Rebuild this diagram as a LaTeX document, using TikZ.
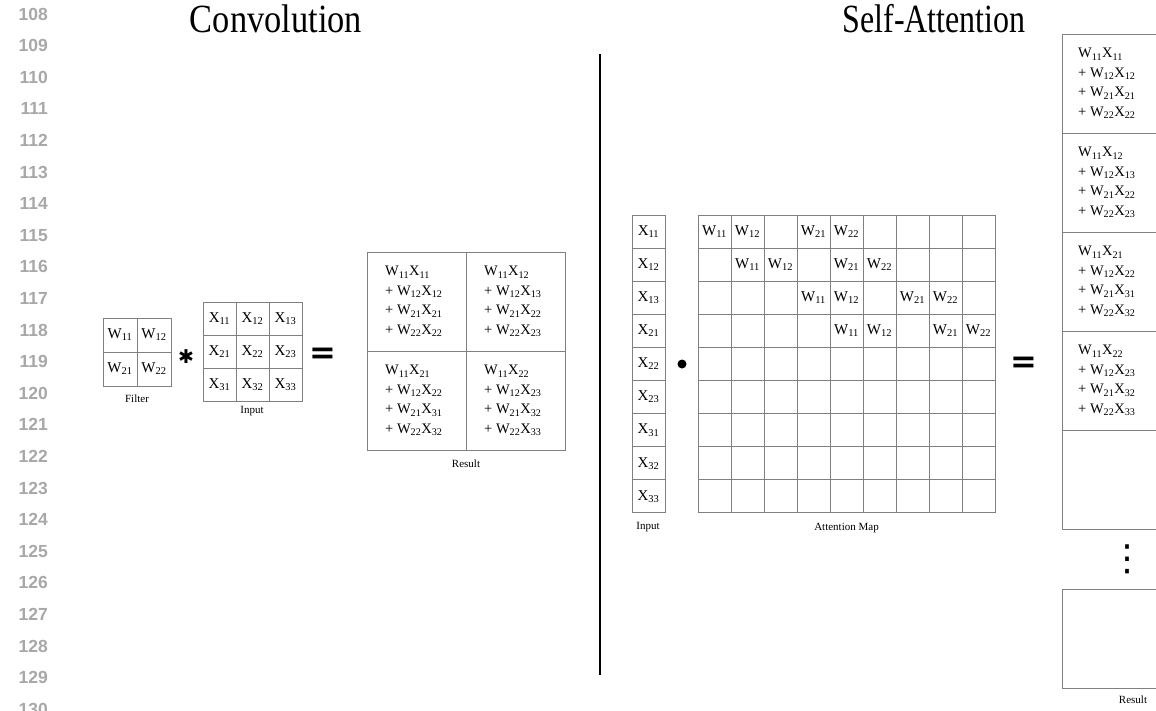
\documentclass[tikz,border=0pt]{standalone}
\usepackage{fontspec}
\setmainfont{Liberation Serif}
\newfontfamily\numfont{Liberation Sans}
\newfontfamily\symfont{DejaVu Sans}
\newcommand{\Wt}[1]{W\textsubscript{#1}}
\newcommand{\Xt}[1]{X\textsubscript{#1}}
\newcommand{\sumblock}[4]{\Wt{11}\Xt{#1}\\+ \Wt{12}\Xt{#2}\\+ \Wt{21}\Xt{#3}\\+ \Wt{22}\Xt{#4}}
\definecolor{gridc}{HTML}{808080}
\definecolor{numc}{HTML}{A8A8A8}
\tikzset{
  gcell/.style={draw=gridc, line width=0.9pt, inner sep=0pt, minimum width=#1, minimum height=#1,
    font=\fontsize{15}{15}\selectfont},
  gcell/.default=33.1pt,
  lbl/.style={font=\fontsize{11}{11}\selectfont, inner sep=0pt},
  lineno/.style={font=\numfont\bfseries\fontsize{17.5}{17.5}\selectfont, text=numc, anchor=east, inner sep=0pt},
  sumtext/.style={font=\fontsize{14.5}{19.5}\selectfont, align=left, anchor=west, inner sep=0pt},
  title/.style={font=\fontsize{40}{40}\selectfont, inner sep=0pt, anchor=base},
  rbox/.style={draw=gridc, line width=0.9pt, inner sep=0pt, minimum width=142pt, minimum height=99pt, anchor=north west},
  bigsym/.style={font=\symfont\bfseries\fontsize{32}{32}\selectfont, inner sep=0pt},
}
\begin{document}
\begin{tikzpicture}[x=1pt,y=-1pt]
\useasboundingbox (0,0) rectangle (1156,710);
\clip (0,0) rectangle (1156,710);
\fill[white] (0,0) rectangle (1156,710);
% line numbers
\foreach \i [evaluate=\i as \n using {int(108+\i)}] in {0,...,22}
  \node[lineno] (ln\i) at (48,14+31.6*\i) {\n};
% titles
\node[title] (tconv) at (276,32) {\scalebox{0.86}[1]{Convolution}};
\node[title] (tsa) at (934,32) {\scalebox{0.8}[1]{Self-Attention}};
% divider
\coordinate (dtop) at (600,54);
\coordinate (dbot) at (600,675);
\draw[line width=1.3pt] (dtop) -- (dbot);
% filter
\foreach \r in {1,2} \foreach \c in {1,2}
  \node[gcell=34pt] (f-\r-\c) at (103+34*\c-17,318+34*\r-17) {\Wt{\r\c}};
\node[lbl] (flbl) at (137,399) {Filter};
\node (star) at (186,357) {\symfont\bfseries\fontsize{19}{19}\selectfont ✱};
% input
\foreach \r in {1,2,3} \foreach \c in {1,2,3}
  \node[gcell=33pt] (in-\r-\c) at (203+33*\c-16.5,302+33*\r-16.5) {\Xt{\r\c}};
\node[lbl] (inlbl) at (252,411) {Input};
\node[bigsym] (eq1) at (323,356) {=};
% result
\foreach \r in {1,2} \foreach \c in {1,2}
  \node[gcell=99pt] (r-\r-\c) at (367+99*\c-49.5,252+99*\r-49.5) {};
\node[sumtext] (rt-1-1) at (385,301.5) {\sumblock{11}{12}{21}{22}};
\node[sumtext] (rt-1-2) at (484,301.5) {\sumblock{12}{13}{22}{23}};
\node[sumtext] (rt-2-1) at (385,400.5) {\sumblock{21}{22}{31}{32}};
\node[sumtext] (rt-2-2) at (484,400.5) {\sumblock{22}{23}{32}{33}};
\node[lbl] (rlbl) at (466,464) {Result};
% self-attention input
\foreach \t [count=\k] in {11,12,13,21,22,23,31,32,33}
  \node[gcell] (sx\k) at (648.5,215+33.1*\k-16.55) {\Xt{\t}};
\node[lbl] (sxlbl) at (648,527) {Input};
\node[circle, fill=black, inner sep=0pt, minimum size=9pt] (dot) at (682,364) {};
% attention map
\foreach \r in {1,...,9} \foreach \c in {1,...,9}
  \node[gcell] (a-\r-\c) at (698+33*\c-16.5,215+33.1*\r-16.55) {};
\foreach \r/\c/\t in {1/1/11,1/2/12,1/4/21,1/5/22,
                      2/2/11,2/3/12,2/5/21,2/6/22,
                      3/4/11,3/5/12,3/7/21,3/8/22,
                      4/5/11,4/6/12,4/8/21,4/9/22}
  \node[font=\fontsize{15}{15}\selectfont, inner sep=0pt] (aw-\r-\c) at (a-\r-\c) {\Wt{\t}};
\node[lbl] (alb) at (846.5,528) {Attention Map};
\node[bigsym] (eq2) at (1024,365) {=};
% result column
\foreach \k in {1,...,5}
  \node[rbox] (rc\k) at (1062,34+99*\k-99) {};
\node[sumtext] (rct1) at (1078,83.5) {\sumblock{11}{12}{21}{22}};
\node[sumtext] (rct2) at (1078,182.5) {\sumblock{12}{13}{22}{23}};
\node[sumtext] (rct3) at (1078,281.5) {\sumblock{21}{22}{31}{32}};
\node[sumtext] (rct4) at (1078,380.5) {\sumblock{22}{23}{32}{33}};
\node (vd) at (1127,559) {\symfont\fontsize{36}{36}\selectfont ⋮};
\node[rbox] (rc6) at (1062,589) {};
\node[lbl] (rclbl) at (1133,700) {Result};
\end{tikzpicture}
\end{document}
